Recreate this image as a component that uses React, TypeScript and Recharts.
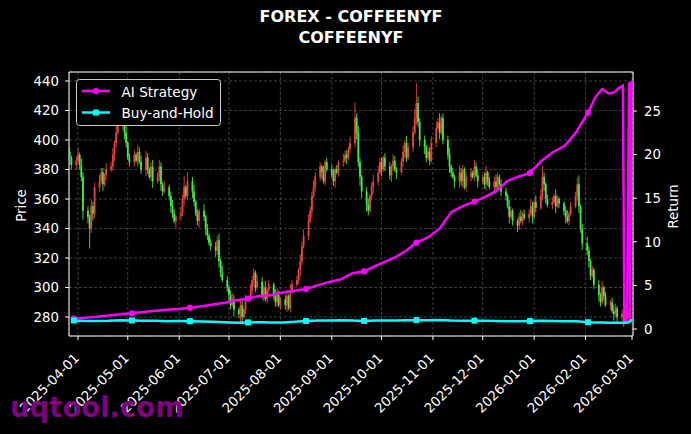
import React from 'react';
import {
  ComposedChart,
  XAxis,
  YAxis,
  CartesianGrid,
  Scatter,
  ErrorBar,
  Line,
  ReferenceArea,
} from 'recharts';

const FONT = 'DejaVu Sans';

// ---------- price candles (one per trading day, starting 2025-03-27) ----------
const firstOpen = 392;
const closes = [
  388, 383,
  386, 390, 383, 375, 352,
  348, 340, 355, 350, 368,
  372, 378, 370, 376, 380,
  382, 390, 398, 405, 410,
  412, 405, 398, 388, 385,
  390, 386, 392, 385, 380,
  388, 380, 375, 382, 372,
  375, 382, 370, 365, 368,
  362, 355, 350, 345, 348,
  350, 360, 368, 362, 372,
  365, 358, 350, 345, 352,
  348, 340, 335, 330, 328,
  325, 332, 318, 310, 305,
  300, 295, 288, 292, 285,
  282, 288, 280, 285, 292,
  298, 305, 310, 300, 304,
  295, 300, 292, 298, 302,
  296, 290, 295, 288, 292,
  288, 294, 286, 298, 302,
  305, 312, 318, 328, 335,
  345, 352, 362, 368, 375,
  382, 378, 372, 385, 380,
  376, 372, 380, 378, 385,
  386, 390, 388, 394, 398,
  415, 405, 385, 375, 365,
  356, 352, 362, 368, 372,
  378, 385, 380, 388, 382,
  376, 382, 386, 380, 378,
  385, 392, 398, 388, 395,
  405, 415, 425, 412, 400,
  395, 388, 392, 386, 398,
  408, 412, 405, 415, 400,
  390, 382, 378, 375, 372,
  378, 372, 380, 368, 375,
  378, 375, 382, 376, 372,
  375, 370, 378, 372, 368,
  372, 368, 375, 370, 365,
  362, 355, 348, 352, 345,
  342, 348, 345, 350, 347,
  350, 355, 348, 358, 354,
  362, 375, 370, 360, 356,
  358, 362, 355, 360, 357,
  352, 348, 345, 350, 355,
  362, 370, 355, 340, 330,
  325, 318, 308, 312, 302,
  295, 290, 300, 294, 288,
  290, 284, 282, 286, 280,
  282, 278, 284, 280, 283,
];
// upper / lower shadow lengths, one digit per candle (in units of WICK_UNIT)
const WICK_UNIT = 1.5;
const upperWicks = [
  '21',
  '23132', '21322', '32213', '23134', '42312', '21323', '32123', '23213',
  '12321', '32514', '23121', '31212', '22313', '21232', '12312', '32213',
  '21312', '12321', '23132', '21323', '32232', '21312', '23121', '32213',
  '72321', '23123', '32212', '21321', '23132', '34932', '21323', '32412',
  '23121', '32212', '21323', '12312', '23212', '21321', '12312', '23213',
  '35212', '21321', '12312', '23412', '32121', '21312', '12321', '21312',
].join('');
const lowerWicks = [
  '32',
  '21224', '39232', '21312', '12321', '23212', '21312', '32123', '12321',
  '23213', '21312', '32123', '23212', '32321', '23213', '24312', '12321',
  '23123', '32212', '23121', '12321', '21312', '23121', '12312', '21312',
  '23243', '32123', '21312', '23213', '12321', '21323', '32121', '21312',
  '23213', '32312', '21213', '12321', '23212', '21312', '32121', '21312',
  '12321', '21312', '23121', '12323', '23212', '32121', '21312', '23121',
].join('');

// ---------- strategy returns (right axis) ----------
const retDays = [
  -2.5, 4.5, 11.5, 18.5, 25.5, 32.5, 39.5, 46.5, 53.5, 60.5,
  67.5, 74.5, 81.5, 88.5, 95.5, 102.5, 109.5, 116.5, 123.5, 130.5,
  137.5, 144.5, 151.5, 158.5, 165.5, 172.5, 179, 185, 192, 198,
  204, 211, 218, 225, 232, 239, 246, 252, 259, 266,
  272.5, 279.5, 286.5, 293.5, 300.5, 307.5, 312, 316, 320, 323,
  326, 328.5, 329.4, 331.0, 332.2, 332.9, 333.6, 334.4,
];
const aiReturn = [
  1.2, 1.3, 1.4, 1.55, 1.7, 1.8, 1.95, 2.1, 2.2, 2.3,
  2.45, 2.6, 2.8, 3.0, 3.3, 3.5, 3.8, 3.9, 4.2, 4.4,
  4.6, 5.0, 5.4, 5.7, 6.4, 6.6, 7.2, 7.7, 8.3, 9.0,
  9.9, 10.5, 11.5, 13.4, 14.1, 14.6, 15.2, 15.8, 17.0, 17.5,
  17.9, 19.3, 20.3, 21.0, 22.6, 24.8, 26.6, 27.5, 27.0, 27.1,
  27.6, 27.9, 0.8, 0.8, 28.3, 0.8, 28.3, 28.3,
];
const bhReturn = [
  0.98, 0.92, 0.93, 0.96, 1.02, 0.98, 0.96, 0.95, 0.9, 0.91,
  0.9, 0.87, 0.82, 0.77, 0.73, 0.76, 0.77, 0.75, 0.76, 0.82,
  0.92, 0.97, 0.97, 1.0, 0.98, 0.93, 0.97, 0.98, 0.98, 1.02,
  1.02, 1.0, 1.03, 0.98, 0.96, 0.96, 0.95, 0.93, 0.89, 0.89,
  0.91, 0.94, 0.92, 0.9, 0.88, 0.78, 0.75, 0.74, 0.73, 0.72,
  0.72, 0.72, 0.73, 0.74, 0.8, 0.9, 1.0, 1.0,
];
const MARK_EVERY = 5;
const MARK_LAST = 45;

// ---------- axes ----------
const tickDays = [0, 30, 61, 91, 122, 153, 183, 214, 244, 275, 306, 334];
const tickLabels = [
  '2025-04-01', '2025-05-01', '2025-06-01', '2025-07-01', '2025-08-01', '2025-09-01',
  '2025-10-01', '2025-11-01', '2025-12-01', '2026-01-01', '2026-02-01', '2026-03-01',
];
const priceTicks = [280, 300, 320, 340, 360, 380, 400, 420, 440];
const returnTicks = [0, 5, 10, 15, 20, 25];
const xDomain: [number, number] = [-5.43, 334.6];
const priceDomain: [number, number] = [267.1, 446.1];
const returnDomain: [number, number] = [-0.8, 29.47];

const UP = '#e8463c';
const DOWN = '#45ea45';
const AI = '#ff00ff';
const BH = '#00ffff';

const DAY = 86400000;
function buildCandles() {
  const base = Date.UTC(2025, 3, 1);
  let t = Date.UTC(2025, 2, 27);
  const out: any[] = [];
  let prev = firstOpen;
  let i = 0;
  while (i < closes.length) {
    const wd = new Date(t).getUTCDay();
    if (wd !== 0 && wd !== 6) {
      const o = prev;
      const c = closes[i];
      const hiB = Math.max(o, c);
      const loB = Math.min(o, c);
      const high = hiB + Number(upperWicks[i]) * WICK_UNIT;
      const low = loB - Number(lowerWicks[i]) * WICK_UNIT;
      const mid = (hiB + loB) / 2;
      out.push({
        d: (t - base) / DAY,
        mid,
        body: [mid - loB, hiB - mid],
        wick: [mid - low, high - mid],
        up: c > o,
      });
      prev = c;
      i++;
    }
    t += DAY;
  }
  return out;
}
const candles = buildCandles();
const upCandles = candles.filter((c) => c.up);
const downCandles = candles.filter((c) => !c.up);
const aiData = retDays.map((d, i) => ({ d, v: aiReturn[i] }));
const bhData = retDays.map((d, i) => ({ d, v: bhReturn[i] }));

const noShape = () => <g />;

const makeDot = (color: string, square: boolean) => (props: any) => {
  const { cx, cy, index } = props;
  if (index % MARK_EVERY !== 0 || index > MARK_LAST || cx == null) return <g key={`m${index}`} />;
  return square ? (
    <rect key={`m${index}`} x={cx - 3} y={cy - 3} width={6} height={6} fill={color} />
  ) : (
    <circle key={`m${index}`} cx={cx} cy={cy} r={3.1} fill={color} />
  );
};

const XTick = (props: any) => {
  const { x, y, payload } = props;
  const idx = tickDays.indexOf(payload.value);
  const ax = x + 2;
  const ay = y + 17;
  return (
    <text
      x={ax}
      y={ay}
      transform={`rotate(-45 ${ax} ${ay})`}
      textAnchor="end"
      fill="#ffffff"
      fontSize={13.3}
      fontFamily={FONT}
    >
      {tickLabels[idx]}
    </text>
  );
};

const tickStyle = { fill: '#ffffff', fontSize: 13.3, fontFamily: FONT };

export default function App() {
  return (
    <div style={{ position: 'absolute', left: 0, top: 0, width: 691, height: 434, background: '#000' }}>
      <ComposedChart width={691} height={434} margin={{ top: 72, right: 0, bottom: 0, left: 0 }}>
        <CartesianGrid
          xAxisId="x"
          yAxisId="left"
          stroke="#4e4e4e"
          strokeWidth={0.8}
          strokeDasharray="3 2"
        />
        <XAxis
          xAxisId="x"
          type="number"
          dataKey="d"
          domain={xDomain}
          allowDataOverflow
          ticks={tickDays}
          interval={0}
          height={98}
          axisLine={false}
          tickLine={{ stroke: '#fff' }}
          tickSize={4}
          tickMargin={2}
          tick={<XTick />}
        />
        <YAxis
          yAxisId="left"
          orientation="left"
          domain={priceDomain}
          allowDataOverflow
          ticks={priceTicks}
          interval={0}
          width={69}
          axisLine={false}
          tickLine={{ stroke: '#fff' }}
          tickSize={4}
          tickMargin={6}
          tick={tickStyle}
        />
        <YAxis
          yAxisId="right"
          orientation="right"
          domain={returnDomain}
          allowDataOverflow
          ticks={returnTicks}
          interval={0}
          width={58}
          axisLine={false}
          tickLine={{ stroke: '#fff' }}
          tickSize={4}
          tickMargin={7}
          tick={tickStyle}
        />
        <Scatter
          xAxisId="x"
          yAxisId="left"
          data={downCandles}
          dataKey="mid"
          shape={noShape}
          isAnimationActive={false}
        >
          <ErrorBar dataKey="wick" direction="y" width={0} stroke={DOWN} strokeWidth={0.9} isAnimationActive={false} />
          <ErrorBar dataKey="body" direction="y" width={0} stroke={DOWN} strokeWidth={1.8} isAnimationActive={false} />
        </Scatter>
        <Scatter
          xAxisId="x"
          yAxisId="left"
          data={upCandles}
          dataKey="mid"
          shape={noShape}
          isAnimationActive={false}
        >
          <ErrorBar dataKey="wick" direction="y" width={0} stroke={UP} strokeWidth={0.9} isAnimationActive={false} />
          <ErrorBar dataKey="body" direction="y" width={0} stroke={UP} strokeWidth={1.8} isAnimationActive={false} />
        </Scatter>
        <Line
          xAxisId="x"
          yAxisId="right"
          data={aiData}
          dataKey="v"
          type="linear"
          stroke={AI}
          strokeWidth={2.5}
          dot={makeDot(AI, false)}
          activeDot={false}
          isAnimationActive={false}
        />
        <Line
          xAxisId="x"
          yAxisId="right"
          data={bhData}
          dataKey="v"
          type="linear"
          stroke={BH}
          strokeWidth={2.5}
          dot={makeDot(BH, true)}
          activeDot={false}
          isAnimationActive={false}
        />
        <ReferenceArea
          xAxisId="x"
          yAxisId="left"
          x1={xDomain[0]}
          x2={xDomain[1]}
          y1={priceDomain[0]}
          y2={priceDomain[1]}
          fill="none"
          fillOpacity={0}
          stroke="#ffffff"
          strokeWidth={1}
          ifOverflow="visible"
        />
      </ComposedChart>
      <svg
        width={691}
        height={434}
        style={{ position: 'absolute', left: 0, top: 0, pointerEvents: 'none' }}
      >
        <text x={351} y={21.7} textAnchor="middle" fill="#fff" fontSize={16} fontWeight="bold" fontFamily={FONT}>
          FOREX - COFFEENYF
        </text>
        <text x={351} y={42.7} textAnchor="middle" fill="#fff" fontSize={16} fontWeight="bold" fontFamily={FONT}>
          COFFEENYF
        </text>
        <text
          x={26}
          y={205.5}
          transform="rotate(-90 26 205.5)"
          textAnchor="middle"
          fill="#fff"
          fontSize={13.3}
          fontFamily={FONT}
        >
          Price
        </text>
        <text
          x={678}
          y={206.5}
          transform="rotate(-90 678 206.5)"
          textAnchor="middle"
          fill="#fff"
          fontSize={13.3}
          fontFamily={FONT}
        >
          Return
        </text>
        <g>
          <rect x={76.5} y={79.5} width={144} height={46} rx={3} fill="#000" stroke="#cccccc" strokeWidth={1} />
          <line x1={82} x2={110} y1={91} y2={91} stroke={AI} strokeWidth={2.5} />
          <circle cx={96} cy={91} r={3.1} fill={AI} />
          <text x={121.5} y={96.5} fill="#fff" fontSize={13.6} fontFamily={FONT}>
            AI Strategy
          </text>
          <line x1={82} x2={110} y1={112.5} y2={112.5} stroke={BH} strokeWidth={2.5} />
          <rect x={93} y={109.5} width={6} height={6} fill={BH} />
          <text x={121.5} y={117.5} fill="#fff" fontSize={13.6} fontFamily={FONT}>
            Buy-and-Hold
          </text>
        </g>
        <text x={10} y={417} fill="#800080" fontSize={27.5} fontWeight="bold" fontFamily={FONT}>
          uqtool.com
        </text>
      </svg>
    </div>
  );
}
